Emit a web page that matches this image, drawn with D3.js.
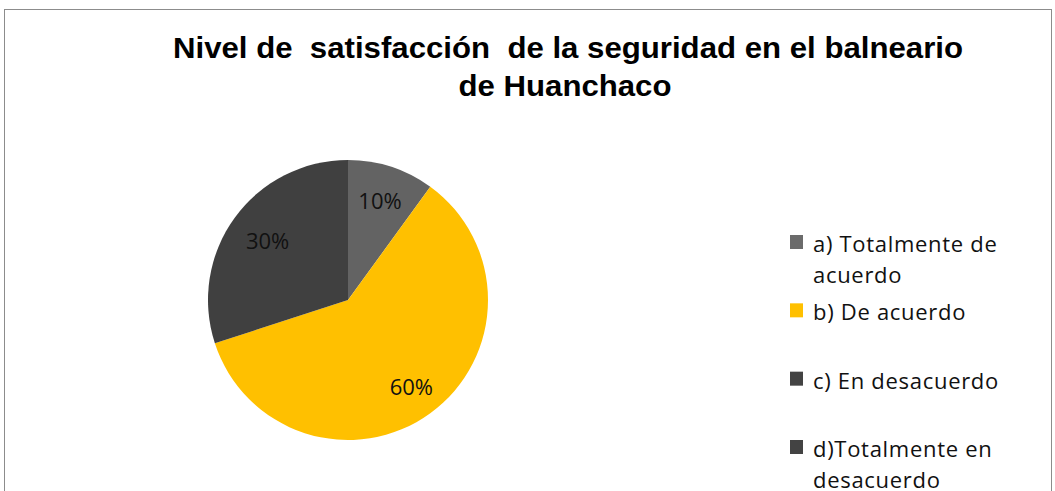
<!DOCTYPE html>
<html>
<head>
<meta charset="utf-8">
<script src="https://cdn.jsdelivr.net/npm/d3@7"></script>
<style>
  body { margin: 0; background: #fff; }
  svg { display: block; }
</style>
</head>
<body>
<div id="chart"></div>
<script>
// DATA
const categories = ["a) Totalmente de acuerdo", "b) De acuerdo", "c) En desacuerdo", "d)Totalmente en desacuerdo"];
const legendLines = [["a) Totalmente de", "acuerdo"], ["b) De acuerdo"], ["c) En desacuerdo"], ["d)Totalmente en", "desacuerdo"]];
const values = [10, 60, 30, 0];
const colors = ["#636363", "#ffc000", "#404040", "#404040"];
const legendColors = ["#6b6b6b", "#ffc000", "#434343", "#434343"];
const titleLines = ["Nivel de  satisfacción  de la seguridad en el balneario", "de Huanchaco"];

const width = 1055, height = 491;

const svg = d3.select("#chart").append("svg")
    .attr("width", width)
    .attr("height", height);

// chart border
svg.append("rect")
    .attr("x", 4.5).attr("y", 9.5)
    .attr("width", 1047).attr("height", 500)
    .attr("fill", "#fff")
    .attr("stroke", "#8c8c8c")
    .attr("stroke-width", 1);

// TITLE
const title = svg.append("g")
    .attr("font-family", "'Liberation Sans', Arial, sans-serif")
    .attr("font-weight", "bold")
    .attr("font-size", 30)
    .attr("fill", "#000")
    .attr("text-anchor", "middle");
title.append("text")
    .attr("xml:space", "preserve")
    .style("white-space", "pre")
    .attr("x", 568).attr("y", 58)
    .attr("textLength", 790)
    .attr("lengthAdjust", "spacingAndGlyphs")
    .text(titleLines[0]);
title.append("text")
    .attr("x", 565).attr("y", 96)
    .attr("textLength", 213)
    .attr("lengthAdjust", "spacingAndGlyphs")
    .text(titleLines[1]);

// PIE
const cx = 348, cy = 300, r = 140;
const pie = d3.pie().sort(null).value(d => d);
const arcs = pie(values);
const arc = d3.arc().innerRadius(0).outerRadius(r);

const pieG = svg.append("g").attr("transform", `translate(${cx},${cy})`);
pieG.selectAll("path")
    .data(arcs.filter(d => d.data > 0))
    .join("path")
    .attr("d", arc)
    .attr("fill", d => colors[d.index]);

// data labels, best fit style
const labelRadius = [0.74, 0.77, 0.71, 0.7];
pieG.selectAll("text.lbl")
    .data(arcs.filter(d => d.data > 0))
    .join("text")
    .attr("class", "lbl")
    .attr("font-family", "'Open Sans', sans-serif")
    .attr("font-size", 22)
    .attr("fill", "#111")
    .attr("text-anchor", "middle")
    .attr("dy", "0.36em")
    .attr("transform", d => {
        const a = (d.startAngle + d.endAngle) / 2;
        const rr = r * labelRadius[d.index];
        return `translate(${rr * Math.sin(a)},${-rr * Math.cos(a)})`;
    })
    .text(d => d.data + "%");

// LEGEND
const legendY = d3.scalePoint().domain(categories).range([242, 447]);
const legend = svg.append("g")
    .attr("font-family", "'Open Sans', sans-serif")
    .attr("font-size", 22)
    .attr("letter-spacing", 0.7)
    .attr("fill", "#111");
const items = legend.selectAll("g")
    .data(categories)
    .join("g")
    .attr("transform", d => `translate(790,${legendY(d)})`);
items.append("rect")
    .attr("x", 0).attr("y", -7)
    .attr("width", 13).attr("height", 14)
    .attr("fill", (d, i) => legendColors[i]);
items.append("text")
    .attr("x", 23).attr("y", 10)
    .selectAll("tspan")
    .data((d, i) => legendLines[i])
    .join("tspan")
    .attr("x", 23)
    .attr("dy", (d, j) => j === 0 ? 0 : 31)
    .text(d => d);
</script>
</body>
</html>
